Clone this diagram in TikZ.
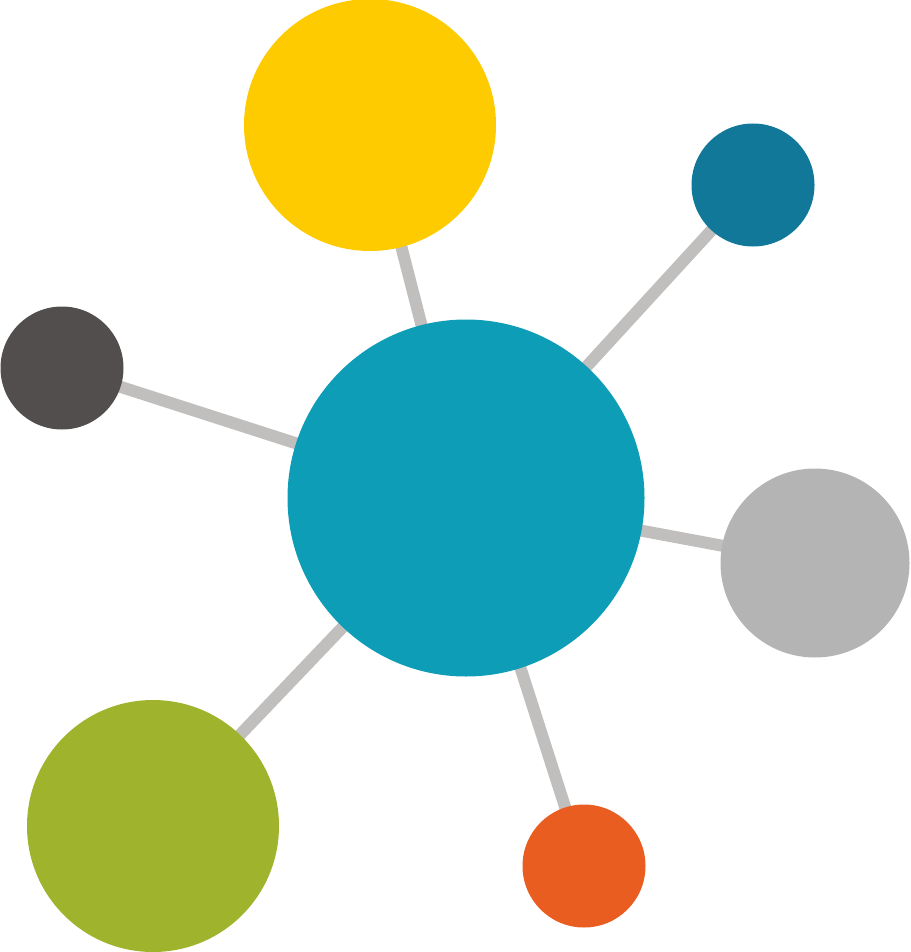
\documentclass[tikz,border=0pt]{standalone}
\definecolor{cteal}{HTML}{0D9DB7}
\definecolor{cyellow}{HTML}{FECB00}
\definecolor{cnavy}{HTML}{127899}
\definecolor{cdark}{HTML}{524E4D}
\definecolor{clight}{HTML}{B3B4B3}
\definecolor{cgreen}{HTML}{A0B32D}
\definecolor{corange}{HTML}{E95D20}
\definecolor{cline}{HTML}{C0BFBE}
\begin{document}
\begin{tikzpicture}[x=1pt,y=-1pt,
  ball/.style={circle,inner sep=0pt,outer sep=0pt,draw=none},
  link/.style={draw=cline,line width=12pt}]
\useasboundingbox (0,0) rectangle (910,952);
\node[ball,fill=cteal,minimum size=357pt] (c) at (466,498) {};
\node[ball,fill=cyellow,minimum size=252pt] (y) at (370,125) {};
\node[ball,fill=cnavy,minimum size=123pt] (n) at (753,185) {};
\node[ball,fill=cdark,minimum size=123pt] (d) at (62,368) {};
\node[ball,fill=clight,minimum size=189pt] (l) at (815,563) {};
\node[ball,fill=cgreen,minimum size=252pt] (g) at (153,826) {};
\node[ball,fill=corange,minimum size=123pt] (o) at (584,866) {};
\begin{scope}[on background layer/.style={}]
\end{scope}
\pgfdeclarelayer{bg}
\pgfsetlayers{bg,main}
\begin{pgfonlayer}{bg}
\draw[link] (c.center) -- (y.center);
\draw[link] (c.center) -- (n.center);
\draw[link] (c.center) -- (d.center);
\draw[link] (c.center) -- (l.center);
\draw[link] (c.center) -- (g.center);
\draw[link] (c.center) -- (o.center);
\end{pgfonlayer}
\end{tikzpicture}
\end{document}
